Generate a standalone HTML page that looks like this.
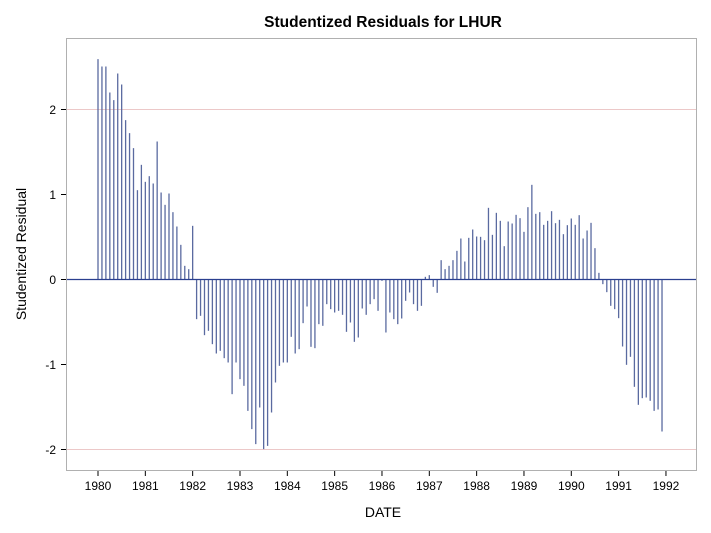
<!DOCTYPE html>
<html><head><meta charset="utf-8"><style>body{margin:0;background:#fff}svg{display:block;font-family:"Liberation Sans",Arial,sans-serif}</style></head>
<body>
<svg id="s" width="711" height="533" viewBox="0 0 711 533">
<rect x="0" y="0" width="711" height="533" fill="#fff"/>
<text x="383" y="27" text-anchor="middle" font-size="15.5" font-weight="bold" fill="#000">Studentized Residuals for LHUR</text>
<rect x="66.5" y="38.5" width="630" height="432" fill="none" stroke="#b0b0b0"/>
<line x1="67" x2="696" y1="109.5" y2="109.5" stroke="#ecc8c8"/>
<line x1="67" x2="696" y1="449.5" y2="449.5" stroke="#ecc8c8"/>
<g id="bars" stroke="#5a6aa0" stroke-width="1.3"></g>
<line x1="67" x2="696" y1="279.5" y2="279.5" stroke="#2a3f8f" stroke-width="1.2"/>
<g font-size="12" fill="#000" text-anchor="end">
<text x="56" y="114">2</text><text x="56" y="199">1</text><text x="56" y="284">0</text><text x="56" y="369">-1</text><text x="56" y="454">-2</text>
</g>
<g stroke="#000"><line x1="61" x2="66" y1="109.5" y2="109.5"/><line x1="61" x2="66" y1="194.5" y2="194.5"/><line x1="61" x2="66" y1="279.5" y2="279.5"/><line x1="61" x2="66" y1="364.5" y2="364.5"/><line x1="61" x2="66" y1="449.5" y2="449.5"/></g>
<g id="xt" font-size="12" text-anchor="middle"></g>
<text x="383" y="517" text-anchor="middle" font-size="14">DATE</text>
<text transform="translate(26,254) rotate(-90)" text-anchor="middle" font-size="14">Studentized Residual</text>
</svg>
<script>
var z1=[25,47,47,125,148,68,101,208,247,292,418,342,393,376,398,272,425,462,428,484,527,582,645,655,525,
805,795,853,840,880,908,900,922,935,1030,935,985,1005,1080,1135,1180,1070,1195,1185,1085,995,945,935];
var z2=[575,498,548,535,457,407,528,532,460,465,400,415,425,420,432,483,455,513,500,413,432,400,385,420,330,485,425,445,460,443,390,365,400,420,405,318,313,348,366,268,295,285,268,240,203,272,201];
var z3=[176,197,198,208,111,192,126,150,226,152,158,132,142,183,109,42,129,124,162,150,121,157,147,190,163,143,162,133,203,179,156,232,306,340,364,405,415,442,527,582,558,648,702,682,680,690,720,716,782];
var v=[];z1.forEach(function(a){v.push((686-a)/255)});z2.forEach(function(a){v.push((326-a)/255)});z3.forEach(function(a){v.push((326-a)/255)});
var ns="http://www.w3.org/2000/svg",g=document.getElementById("bars");
v.forEach(function(d,i){var x=98+i*47.33/12;var l=document.createElementNS(ns,"line");l.setAttribute("x1",x);l.setAttribute("x2",x);l.setAttribute("y1",279.5);l.setAttribute("y2",279.5-d*85);g.appendChild(l)});
var xt=document.getElementById("xt"),s=document.getElementById("s");
for(var k=0;k<=12;k++){var x=98+k*47.33;var t=document.createElementNS(ns,"text");t.setAttribute("x",x);t.setAttribute("y",490);t.textContent=1980+k;xt.appendChild(t);
var l=document.createElementNS(ns,"line");l.setAttribute("x1",x);l.setAttribute("x2",x);l.setAttribute("y1",471);l.setAttribute("y2",476);l.setAttribute("stroke","#000");s.appendChild(l);}
</script>
</body></html>
